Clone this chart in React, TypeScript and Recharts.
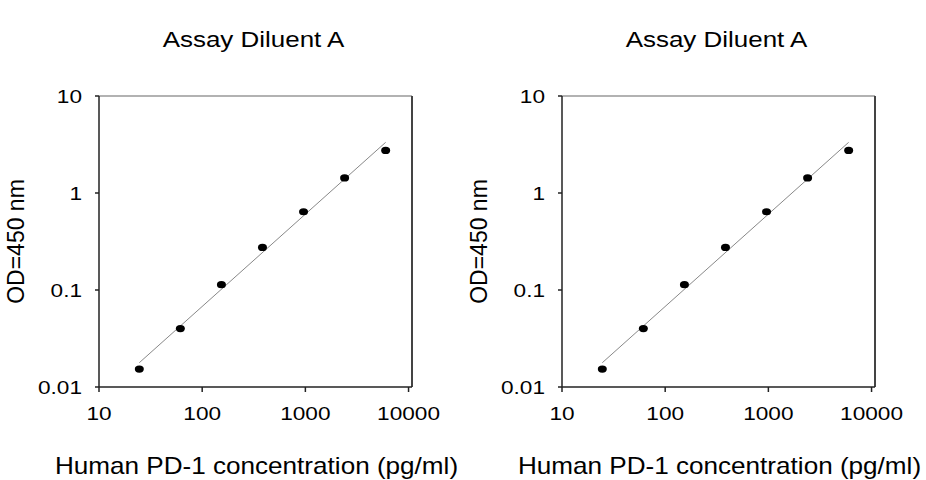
import { Label, ReferenceLine, Scatter, ScatterChart, XAxis, YAxis } from "recharts";

// standard curve, 2.5-fold dilution series
const concentration = [24.58, 61.44, 153.6, 384, 960, 2400, 6000];
const odMeasured = [0.0153, 0.04, 0.1135, 0.275, 0.641, 1.43, 2.75];

// fitted line end points
const fitConcentration = [24.58, 6000];
const fitOd = [0.0178, 3.33];

const xTicks = [10, 100, 1000, 10000];
const yTicks = [0.01, 0.1, 1, 10];
const panelTitles = ["Assay Diluent A", "Assay Diluent A"];

const X_MAX = 10800;
const FONT = '"Liberation Sans", Arial, Helvetica, sans-serif';

const PLOT_LEFT = 99;
const PLOT_TOP = 96;
const PLOT_W = 313;
const PLOT_H = 291;
const CHART_W = 463;
const CHART_H = 480;

const points = concentration.map((c, i) => ({ x: c, y: odMeasured[i] }));
const fitLine = fitConcentration.map((c, i) => ({ x: c, y: fitOd[i] }));

type TextProps = {
  x: number;
  y: number;
  size: number;
  anchor?: "start" | "middle" | "end";
  sx?: number;
  children: React.ReactNode;
};

// the source image is a little wider than tall, so text is stretched horizontally
function Stretched({ x, y, size, anchor = "middle", sx = 1.17, children }: TextProps) {
  return (
    <g transform={`translate(${x},${y}) scale(${sx},1)`}>
      <text x={0} y={0} textAnchor={anchor} fontSize={size} fontFamily={FONT} fill="#000">
        {children}
      </text>
    </g>
  );
}

const XTick = (props: any) => {
  const { x, payload } = props;
  return (
    <Stretched x={x} y={PLOT_TOP + PLOT_H + 33} size={19} sx={1.19}>
      {String(payload.value)}
    </Stretched>
  );
};

const YTick = (props: any) => {
  const { y, payload } = props;
  return (
    <Stretched x={PLOT_LEFT - 17} y={y + 6.7} size={19} anchor="end" sx={1.19}>
      {String(payload.value)}
    </Stretched>
  );
};

const Dot = (props: any) => {
  const { cx, cy } = props;
  if (cx == null || cy == null) return <g />;
  return <ellipse cx={cx} cy={cy} rx={4.5} ry={3.6} fill="#000" />;
};

function Panel({ title }: { title: string }) {
  return (
    <ScatterChart
      width={CHART_W}
      height={CHART_H}
      margin={{ top: PLOT_TOP, right: CHART_W - PLOT_LEFT - PLOT_W, bottom: 0, left: 0 }}
    >
      <XAxis
        type="number"
        dataKey="x"
        scale="log"
        domain={[10, X_MAX]}
        ticks={xTicks}
        allowDataOverflow
        height={CHART_H - PLOT_TOP - PLOT_H}
        stroke="#222"
        strokeWidth={1.5}
        tickSize={5}
        tickMargin={0}
        tick={XTick}
        label={
          <Label
            content={() => (
              <Stretched x={PLOT_LEFT + PLOT_W / 2 + 1} y={474} size={23} sx={1.135}>
                Human PD-1 concentration (pg/ml)
              </Stretched>
            )}
          />
        }
      />
      <YAxis
        type="number"
        dataKey="y"
        scale="log"
        domain={[0.01, 10]}
        ticks={yTicks}
        allowDataOverflow
        width={PLOT_LEFT}
        stroke="#222"
        strokeWidth={1.5}
        tickSize={4}
        tickMargin={0}
        tick={YTick}
        label={
          <Label
            content={() => (
              <text
                transform={`translate(24, ${PLOT_TOP + PLOT_H / 2}) rotate(-90)`}
                textAnchor="middle"
                fontSize={23}
                fontFamily={FONT}
                fill="#000"
              >
                OD=450 nm
              </text>
            )}
          />
        }
      />
      <ReferenceLine
        y={10}
        stroke="#999"
        strokeWidth={1.5}
        label={
          <Label
            content={() => (
              <Stretched x={PLOT_LEFT + PLOT_W / 2 - 2} y={47.3} size={22} sx={1.18}>
                {title}
              </Stretched>
            )}
          />
        }
      />
      <ReferenceLine x={X_MAX} stroke="#444" strokeWidth={2} />
      <Scatter
        data={fitLine}
        line={{ stroke: "#888", strokeWidth: 1 }}
        shape={() => <g />}
        isAnimationActive={false}
      />
      <Scatter data={points} shape={Dot} isAnimationActive={false} />
    </ScatterChart>
  );
}

export default function App() {
  return (
    <div
      style={{
        position: "absolute",
        left: 0,
        top: 0,
        width: 926,
        height: 480,
        background: "#fff",
        display: "flex",
      }}
    >
      {panelTitles.map((t, i) => (
        <Panel key={i} title={t} />
      ))}
    </div>
  );
}
